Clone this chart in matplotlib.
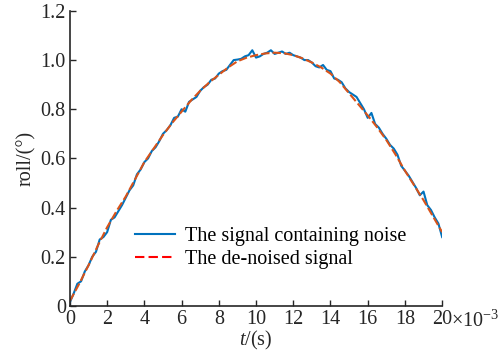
import matplotlib.pyplot as plt
from matplotlib.lines import Line2D

plt.rcParams['font.family'] = ['Liberation Serif', 'DejaVu Serif']
plt.rcParams['mathtext.fontset'] = 'custom'
plt.rcParams['mathtext.rm'] = 'Liberation Serif'
plt.rcParams['mathtext.it'] = 'Liberation Serif:italic'

# time axis in units of 1e-3 s
t_noisy = [i * 0.2 for i in range(101)]
roll_noisy = [
    0.015, 0.05, 0.09, 0.10, 0.14, 0.165, 0.20, 0.22, 0.27, 0.28,
    0.30, 0.35, 0.36, 0.385, 0.41, 0.44, 0.47, 0.49, 0.535, 0.555,
    0.585, 0.60, 0.63, 0.645, 0.67, 0.70, 0.715, 0.735, 0.765, 0.77,
    0.80, 0.79, 0.83, 0.84, 0.85, 0.875, 0.89, 0.90, 0.92, 0.925,
    0.945, 0.955, 0.96, 0.98, 1.00, 1.002, 1.005, 1.015, 1.02, 1.04,
    1.01, 1.015, 1.025, 1.03, 1.04, 1.025, 1.03, 1.035, 1.025, 1.03,
    1.02, 1.015, 1.01, 1.00, 1.00, 0.99, 0.975, 0.97, 0.98, 0.96,
    0.955, 0.925, 0.92, 0.91, 0.885, 0.87, 0.86, 0.85, 0.825, 0.80,
    0.765, 0.785, 0.74, 0.725, 0.70, 0.68, 0.655, 0.64, 0.615, 0.57,
    0.55, 0.53, 0.505, 0.48, 0.45, 0.465, 0.41, 0.39, 0.36, 0.335,
    0.28,
]

t_denoised = [i * 0.5 for i in range(41)]
roll_denoised = [
    0.02, 0.09, 0.165, 0.245, 0.32, 0.385, 0.445, 0.515, 0.585, 0.64,
    0.695, 0.745, 0.79, 0.835, 0.875, 0.91, 0.94, 0.97, 0.995, 1.01,
    1.02, 1.027, 1.03, 1.028, 1.02, 1.007, 0.99, 0.97, 0.945, 0.91,
    0.865, 0.82, 0.775, 0.727, 0.675, 0.615, 0.55, 0.49, 0.43, 0.365,
    0.30,
]

xticks = list(range(0, 21, 2))
yticks = [0, 0.2, 0.4, 0.6, 0.8, 1.0, 1.2]
ytick_labels = ['0', '0.2', '0.4', '0.6', '0.8', '1.0', '1.2']

fs = 14.5
txt = '#262626'

fig = plt.figure(figsize=(5.03, 3.52), dpi=100)
ax = fig.add_axes([0.139, 0.131, 0.740, 0.838])

ax.plot(t_noisy, roll_noisy, color='#0072BD', lw=1.5)
ax.plot(t_denoised, roll_denoised, color='#D95319', lw=1.5, ls=(0, (4, 1.5)))

ax.set_xlim(0, 20)
ax.set_ylim(0, 1.2)
ax.set_xticks(xticks)
ax.set_yticks(yticks)
ax.set_yticklabels(ytick_labels)
ax.tick_params(direction='in', length=4, width=1, labelsize=fs, colors=txt, pad=3)
for s in ['top', 'right']:
    ax.spines[s].set_visible(False)
for s in ['left', 'bottom']:
    ax.spines[s].set_linewidth(1.2)
    ax.spines[s].set_color(txt)

ax.set_xlabel('$t$/(s)', fontsize=fs, labelpad=0, color=txt)
ax.set_ylabel('roll/(°)', fontsize=fs, labelpad=3, color=txt)
fig.text(0.897, 0.071, r'×10$^{-3}$', fontsize=fs, color=txt, ha='left', va='baseline')

handles = [Line2D([], [], color='#0072BD', lw=1.5),
           Line2D([], [], color='#FF0000', lw=1.5, ls=(0, (4.5, 2)))]
ax.legend(handles, ['The signal containing noise', 'The de-noised signal'],
          frameon=False, fontsize=fs, handlelength=2.0, handletextpad=0.5,
          labelspacing=0.2, loc='upper left', bbox_to_anchor=(0.175, 0.268),
          borderaxespad=0, borderpad=0)

fig.savefig('out.png', dpi=100)
